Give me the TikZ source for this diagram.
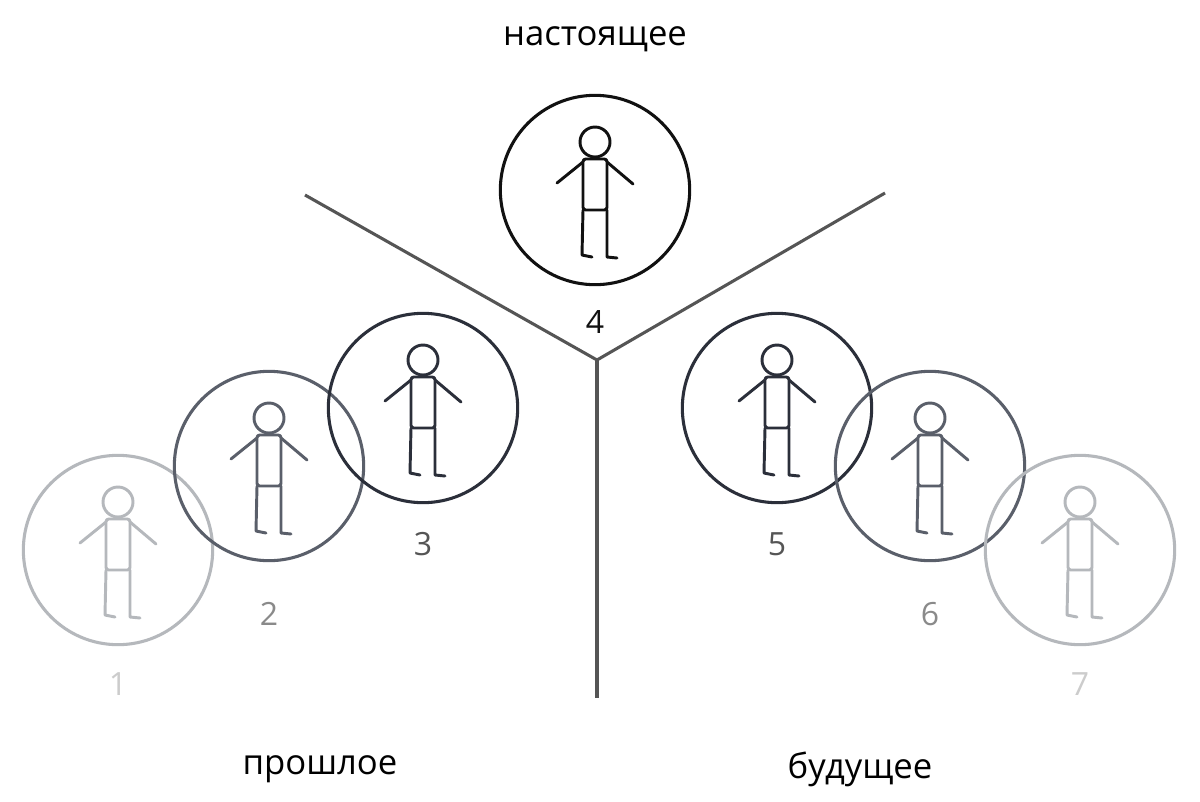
\documentclass[tikz,border=0pt]{standalone}
\usepackage{fontspec}
\setmainfont{Open Sans}
\definecolor{c4}{HTML}{111111}
\definecolor{c3}{HTML}{2B2F3A}
\definecolor{c2}{HTML}{5A5F6A}
\definecolor{c1}{HTML}{B5B8BC}
\definecolor{l3}{HTML}{555555}
\definecolor{l2}{HTML}{8A8A8A}
\definecolor{l1}{HTML}{CCCCCC}
\definecolor{divc}{HTML}{555555}
\tikzset{
  ring/.style={circle,draw=#1,line width=2.3pt,minimum size=142pt,inner sep=0pt},
  numlbl/.style={text=#1,font=\fontsize{24}{27}\selectfont},
  word/.style={font=\fontsize{26}{30}\selectfont},
  divider/.style={draw=divc,line width=2.3pt}
}
\newcommand{\stickman}[2]{%
  \begin{scope}[shift={(#1)},draw=#2,line width=2.2pt,line cap=round,line join=round]
    \draw (0,-48) circle (15);
    \draw[rounded corners=2pt] (-12,-31) rectangle (12,20);
    \draw (-12,-28) -- (-38,-7);
    \draw (12,-28) -- (38,-6);
    \draw (-12,20) -- (-13,65) -- (-3,67);
    \draw (12,20) -- (12,67) -- (22,68);
  \end{scope}}
\begin{document}
\begin{tikzpicture}[x=0.75pt,y=-0.75pt]
\useasboundingbox (0,0) rectangle (1200,801);
\fill[white] (0,0) rectangle (1200,801);
\coordinate (ca) at (305,195);
\coordinate (cb) at (885,193);
\coordinate (cm) at (597,360);
\coordinate (cd) at (597,698);
\draw[divider] (ca) -- (cm) -- (cb);
\draw[divider] (cm) -- (cd);
\node[ring=c1] (r1) at (118,550) {};
\node[ring=c2] (r2) at (269,466) {};
\node[ring=c3] (r3) at (423,408) {};
\node[ring=c4] (r4) at (595,190) {};
\node[ring=c3] (r5) at (777,408) {};
\node[ring=c2] (r6) at (930,466) {};
\node[ring=c1] (r7) at (1080,550) {};
\stickman{118,550}{c1}
\stickman{269,466}{c2}
\stickman{423,408}{c3}
\stickman{595,190}{c4}
\stickman{777,408}{c3}
\stickman{930,466}{c2}
\stickman{1080,550}{c1}
\node[numlbl=l1] (n1) at (118,684) {1};
\node[numlbl=l2] (n2) at (269,614) {2};
\node[numlbl=l3] (n3) at (423,544) {3};
\node[numlbl=c4] (n4) at (595,322) {4};
\node[numlbl=l3] (n5) at (777,544) {5};
\node[numlbl=l2] (n6) at (930,614) {6};
\node[numlbl=l1] (n7) at (1080,684) {7};
\node[word] (w1) at (595,39) {настоящее};
\node[word] (w2) at (320,769) {прошлое};
\node[word] (w3) at (860,769) {будущее};
\end{tikzpicture}
\end{document}
